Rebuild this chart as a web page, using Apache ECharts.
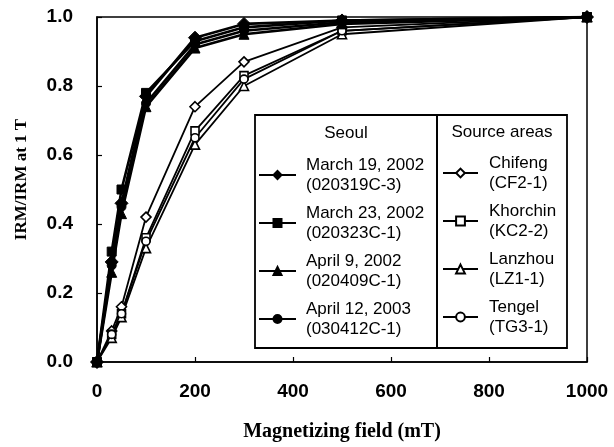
<!DOCTYPE html>
<html><head><meta charset="utf-8">
<script src="https://cdn.jsdelivr.net/npm/echarts@6/dist/echarts.min.js"></script>
<style>html,body{margin:0;padding:0;background:#fff}#c{width:614px;height:447px}</style>
</head><body><div id="c"></div>
<script>
// Magnetizing field (mT)
const fields = [0, 30, 50, 100, 200, 300, 500, 1000];
// Seoul samples (IRM / IRM at 1 T)
const mar19 = [0, 0.29, 0.46, 0.77, 0.94, 0.98, 0.99, 1.0];
const mar23 = [0, 0.32, 0.50, 0.78, 0.93, 0.97, 0.99, 1.0];
const apr09 = [0, 0.26, 0.43, 0.74, 0.91, 0.95, 0.98, 1.0];
const apr12 = [0, 0.28, 0.45, 0.75, 0.92, 0.96, 0.985, 1.0];
// Source areas
const chifeng  = [0, 0.09, 0.16, 0.42, 0.74, 0.87, 0.97, 1.0];
const khorchin = [0, 0.08, 0.14, 0.36, 0.67, 0.83, 0.96, 1.0];
const lanzhou  = [0, 0.07, 0.13, 0.33, 0.63, 0.80, 0.95, 1.0];
const tengel   = [0, 0.08, 0.14, 0.35, 0.65, 0.82, 0.96, 1.0];

const seoulNames = ['March 19, 2002', 'March 23, 2002', 'April 9, 2002', 'April 12, 2003'];
const seoulIds = ['(020319C-3)', '(020323C-1)', '(020409C-1)', '(030412C-1)'];
const sourceNames = ['Chifeng', 'Khorchin', 'Lanzhou', 'Tengel'];
const sourceIds = ['(CF2-1)', '(KC2-2)', '(LZ1-1)', '(TG3-1)'];
const xTicks = [0, 200, 400, 600, 800, 1000];
const yTicks = ['0.0', '0.2', '0.4', '0.6', '0.8', '1.0'];

const seoulData = [mar19, mar23, apr09, apr12];
const sourceData = [chifeng, khorchin, lanzhou, tengel];
const symbols = ['diamond', 'rect', 'triangle', 'circle'];
const seoulSizes = [13, 9, 10, 9];
const sourceSizes = [10, 8, 9, 8];

const pair = arr => fields.map((f, i) => [f, arr[i]]);
const labelMap = {};
seoulNames.forEach((n, i) => labelMap[n] = n + '\n' + seoulIds[i]);
sourceNames.forEach((n, i) => labelMap[n] = n + '\n' + sourceIds[i]);

const series = [];
sourceNames.forEach((n, i) => series.push({
  name: n, type: 'line', data: pair(sourceData[i]), symbol: symbols[i],
  symbolSize: sourceSizes[i], showAllSymbol: true, z: 2,
  lineStyle: { color: '#000', width: 1.8 },
  itemStyle: { color: '#fff', borderColor: '#000', borderWidth: 1.6 }
}));
seoulNames.forEach((n, i) => series.push({
  name: n, type: 'line', data: pair(seoulData[i]), symbol: symbols[i],
  symbolSize: seoulSizes[i], showAllSymbol: true, z: 3,
  lineStyle: { color: '#000', width: 2.6 },
  itemStyle: { color: '#000', borderColor: '#000', borderWidth: 1 }
}));

const sans = 'Liberation Sans';
const legendText = { color: '#000', fontFamily: sans, fontSize: 17, fontWeight: 'normal', lineHeight: 20, padding: [0, 0, 0, 5] };

const chart = echarts.init(document.getElementById('c'));
chart.setOption({
  animation: false,
  backgroundColor: '#fff',
  grid: { left: 97, right: 27, top: 17, bottom: 76, show: true, borderColor: '#000', borderWidth: 1.5 },
  xAxis: {
    type: 'value', min: 0, max: 1000, interval: 200,
    name: 'Magnetizing field (mT)', nameLocation: 'middle', nameGap: 60,
    nameTextStyle: { fontFamily: 'Liberation Serif', fontWeight: 'bold', fontSize: 20, color: '#000' },
    axisLine: { lineStyle: { color: '#000', width: 1.5 } },
    axisTick: { inside: true, length: 5, lineStyle: { color: '#000', width: 1.2 } },
    axisLabel: { margin: 20, color: '#000', fontFamily: sans, fontSize: 19, fontWeight: 'bold',
      formatter: v => String(xTicks[xTicks.indexOf(v)]) },
    splitLine: { show: false }
  },
  yAxis: {
    type: 'value', min: 0, max: 1, interval: 0.2,
    name: 'IRM/IRM at 1 T', nameLocation: 'middle', nameGap: 67, nameRotate: 90,
    nameTextStyle: { fontFamily: 'Liberation Serif', fontWeight: 'bold', fontSize: 17, color: '#000', padding: [0, 0, 0, 20] },
    axisLine: { lineStyle: { color: '#000', width: 1.5 } },
    axisTick: { inside: true, length: 5, lineStyle: { color: '#000', width: 1.2 } },
    axisLabel: { margin: 24, color: '#000', fontFamily: sans, fontSize: 19, fontWeight: 'bold',
      formatter: v => yTicks[Math.round(v * 5)] },
    splitLine: { show: false }
  },
  legend: [
    { data: seoulNames, orient: 'vertical', left: 258, top: 155, itemGap: 8, itemWidth: 37, itemHeight: 10, z: 20,
      selectedMode: false, padding: 0, textStyle: legendText, formatter: n => labelMap[n] },
    { data: sourceNames, orient: 'vertical', left: 442, top: 153, itemGap: 8, itemWidth: 35, itemHeight: 11, z: 20,
      selectedMode: false, padding: 0, textStyle: Object.assign({}, legendText, { padding: [0, 0, 0, 6] }), formatter: n => labelMap[n] }
  ],
  graphic: [
    { type: 'rect', shape: { x: 255, y: 115, width: 182, height: 233 }, style: { fill: '#fff', stroke: '#000', lineWidth: 1.8 }, z: 10 },
    { type: 'rect', shape: { x: 437, y: 115, width: 130, height: 233 }, style: { fill: 'none', stroke: '#000', lineWidth: 1.8 }, z: 11 },
    { type: 'text', x: 346, y: 133, style: { text: 'Seoul', fill: '#000', font: '17px "Liberation Sans"', textAlign: 'center', textVerticalAlign: 'middle' }, z: 11 },
    { type: 'text', x: 502, y: 132, style: { text: 'Source areas', fill: '#000', font: '17px "Liberation Sans"', textAlign: 'center', textVerticalAlign: 'middle' }, z: 11 }
  ],
  series: series
});
</script></body></html>
